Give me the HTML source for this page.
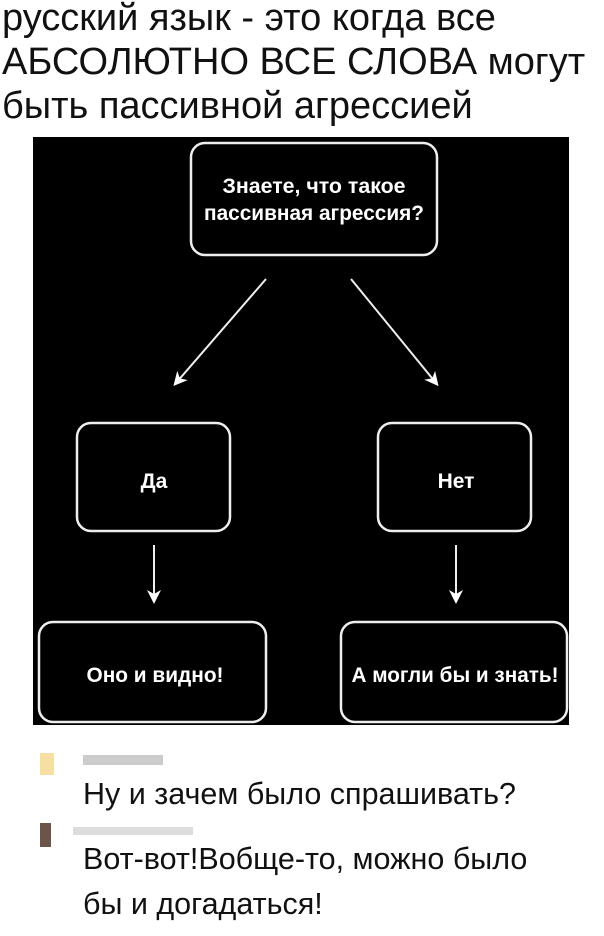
<!DOCTYPE html>
<html><head><meta charset="utf-8"><style>
body{margin:0;width:604px;height:936px;background:#fff;overflow:hidden;position:relative;font-family:"Liberation Sans","DejaVu Sans",sans-serif}
.h{position:absolute;left:2px;top:-4px;font-size:38px;line-height:44px;color:#111;white-space:nowrap}
.c{position:absolute;left:83px;font-size:30.5px;line-height:45px;color:#111;white-space:nowrap}
</style></head><body>
<div class="h">русский язык - это когда все<br>АБСОЛЮТНО ВСЕ СЛОВА могут<br>быть пассивной агрессией</div>
<svg style="position:absolute;left:0;top:0" width="604" height="936">
<defs><marker id="a" markerWidth="14" markerHeight="14" refX="10" refY="7" orient="auto" markerUnits="userSpaceOnUse"><path d="M0,0 L14,7 L0,14 L4,7 z" fill="#fff"/></marker></defs>
<rect x="33" y="137" width="536" height="588" fill="#000"/>
<g fill="none" stroke="#eee" stroke-width="2.5">
<rect x="191" y="143" width="246" height="112" rx="14"/>
<rect x="77" y="423" width="153" height="108" rx="14"/>
<rect x="378" y="423" width="153" height="108" rx="14"/>
<rect x="39" y="622" width="227" height="100" rx="14"/>
<rect x="341" y="622" width="226" height="100" rx="14"/>
</g>
<g stroke="#eee" stroke-width="2">
<line x1="266" y1="279" x2="176" y2="383" marker-end="url(#a)"/>
<line x1="351" y1="279" x2="436" y2="383" marker-end="url(#a)"/>
<line x1="154" y1="545" x2="154" y2="600" marker-end="url(#a)"/>
<line x1="456" y1="545" x2="456" y2="600" marker-end="url(#a)"/>
</g>
<g fill="#fff" font-family="Liberation Sans Narrow,Liberation Sans,sans-serif" font-weight="bold" font-size="21" text-anchor="middle">
<text x="314" y="193" textLength="183" lengthAdjust="spacingAndGlyphs">Знаете, что такое</text>
<text x="314" y="220" textLength="220" lengthAdjust="spacingAndGlyphs">пассивная агрессия?</text>
<text x="154" y="488">Да</text>
<text x="456" y="488">Нет</text>
<text x="155" y="682" textLength="137" lengthAdjust="spacingAndGlyphs">Оно и видно!</text>
<text x="455" y="682" textLength="207" lengthAdjust="spacingAndGlyphs">А могли бы и знать!</text>
</g>
<rect x="40" y="753" width="14" height="22" fill="#f4d88a" opacity=".8"/>
<rect x="83" y="755" width="80" height="10" fill="#ccc"/>
<rect x="40" y="823" width="11" height="24" fill="#6b5548"/>
<rect x="73" y="827" width="120" height="8" fill="#ddd"/>
</svg>
<div class="c" style="top:772px">Ну и зачем было спрашивать?</div>
<div class="c" style="top:837px">Вот-вот!Вобще-то, можно было<br>бы и догадаться!</div>
</body></html>
